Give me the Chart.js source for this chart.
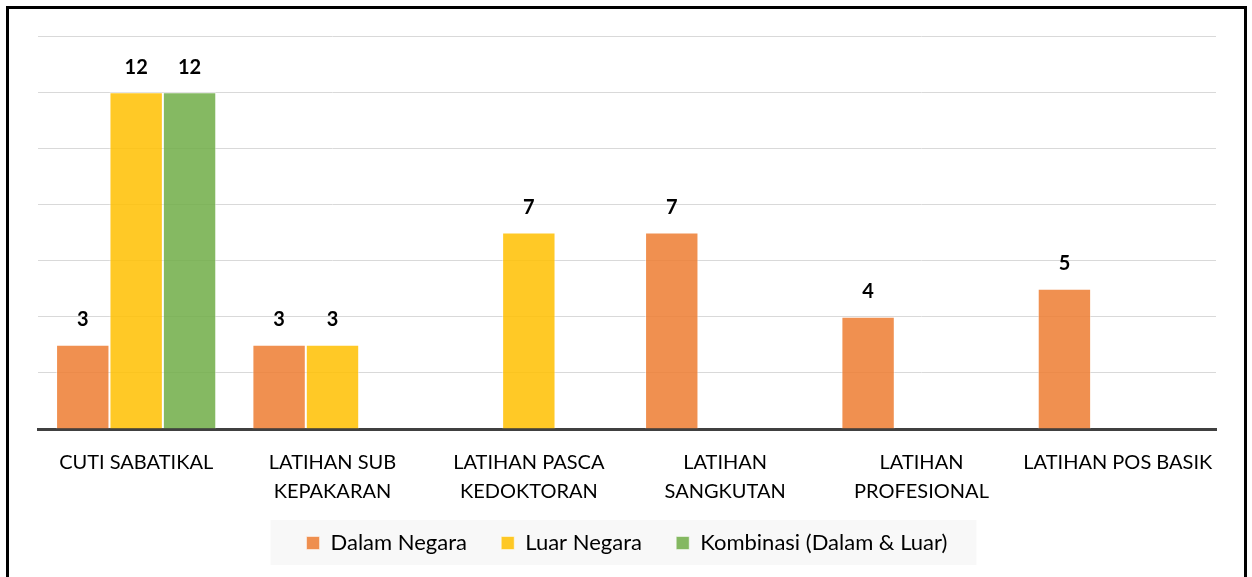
<!DOCTYPE html>
<html>
<head>
<meta charset="utf-8">
<script src="https://cdn.jsdelivr.net/npm/chart.js@4/dist/chart.umd.min.js"></script>
<style>
  html, body { margin: 0; padding: 0; background: #fff; }
  #wrap { position: relative; width: 1252px; height: 577px; overflow: hidden; }
  #frame { position: absolute; left: 6px; top: 6px; width: 1235px; height: 640px; border: 3px solid #000; pointer-events: none; }
  canvas { position: absolute; left: 0; top: 0; }
</style>
</head>
<body>
<div id="wrap">
  <canvas id="chart" width="1252" height="577"></canvas>
  <div id="frame"></div>
</div>
<script>
// ---- data ----
const categories = [
  "CUTI SABATIKAL",
  ["LATIHAN SUB", "KEPAKARAN"],
  ["LATIHAN PASCA", "KEDOKTORAN"],
  ["LATIHAN", "SANGKUTAN"],
  ["LATIHAN", "PROFESIONAL"],
  "LATIHAN POS BASIK"
];
const dalamNegara = [3, 3, null, 7, 4, 5];
const luarNegara = [12, 3, 7, null, null, null];
const kombinasi = [12, null, null, null, null, null];
const yTicks = { min: 0, max: 14, step: 2 };

const FONT = "Lato, 'Open Sans', sans-serif";

// label angka di atas bar
const valueLabels = {
  id: "valueLabels",
  afterDatasetsDraw(chart) {
    const ctx = chart.ctx;
    ctx.save();
    ctx.font = "bold 20px " + FONT;
    ctx.fillStyle = "#000";
    ctx.textAlign = "center";
    ctx.textBaseline = "middle";
    chart.data.datasets.forEach((ds, i) => {
      const meta = chart.getDatasetMeta(i);
      meta.data.forEach((bar, j) => {
        const v = ds.data[j];
        if (v === null || v === undefined) return;
        ctx.fillText(String(v), bar.x, bar.y - 25);
      });
    });
    ctx.restore();
  }
};

// latar abu-abu di belakang legend
const legendBg = {
  id: "legendBg",
  beforeDraw(chart) {
    const boxes = chart.legend && chart.legend.legendHitBoxes;
    if (!boxes || !boxes.length) return;
    let minX = Infinity, maxX = -Infinity, minY = Infinity, maxY = -Infinity;
    boxes.forEach((b) => {
      minX = Math.min(minX, b.left);
      maxX = Math.max(maxX, b.left + b.width);
      minY = Math.min(minY, b.top);
      maxY = Math.max(maxY, b.top + b.height);
    });
    const ctx = chart.ctx;
    ctx.save();
    ctx.fillStyle = "#f8f8f8";
    const cy = (minY + maxY) / 2;
    ctx.fillRect(minX - 36, cy - 23, (maxX - minX) + 65, 45);
    ctx.restore();
  }
};

new Chart(document.getElementById("chart"), {
  type: "bar",
  data: {
    labels: categories,
    datasets: [
      { label: "Dalam Negara", data: dalamNegara, backgroundColor: "rgba(237,125,49,0.85)", borderColor: "rgba(255,255,255,0.5)", borderWidth: 1 },
      { label: "Luar Negara", data: luarNegara, backgroundColor: "rgba(255,192,0,0.85)", borderColor: "rgba(255,255,255,0.5)", borderWidth: 1 },
      { label: "Kombinasi (Dalam & Luar)", data: kombinasi, backgroundColor: "rgba(112,173,71,0.85)", borderColor: "rgba(255,255,255,0.5)", borderWidth: 1 }
    ]
  },
  options: {
    responsive: false,
    animation: false,
    devicePixelRatio: 1,
    layout: { padding: { left: 38, right: 36, top: 36, bottom: 13 } },
    datasets: { bar: { categoryPercentage: 0.816, barPercentage: 1.0 } },
    plugins: {
      legend: {
        position: "bottom",
        labels: {
          font: { family: FONT, size: 22 },
          color: "#000",
          boxWidth: 13,
          boxHeight: 13,
          padding: 15,
          generateLabels(chart) {
            const items = Chart.defaults.plugins.legend.labels.generateLabels(chart);
            // jarak antar item lebih lebar
            items.forEach((it, i) => {
              if (i < items.length - 1) it.text = it.text + "\u2003\u2009";
            });
            return items;
          }
        }
      },
      tooltip: { enabled: false }
    },
    scales: {
      x: {
        grid: { display: false },
        border: { display: true, color: "#404040", width: 3 },
        ticks: {
          color: "#000",
          font: { family: FONT, size: 20, lineHeight: 1.45 },
          maxRotation: 0,
          autoSkip: false,
          padding: 11
        }
      },
      y: {
        min: yTicks.min,
        max: yTicks.max,
        ticks: { display: false, stepSize: yTicks.step },
        grid: { color: "#d9d9d9", lineWidth: 1, drawTicks: false },
        border: { display: false }
      }
    }
  },
  plugins: [legendBg, valueLabels]
});
</script>
</body>
</html>
